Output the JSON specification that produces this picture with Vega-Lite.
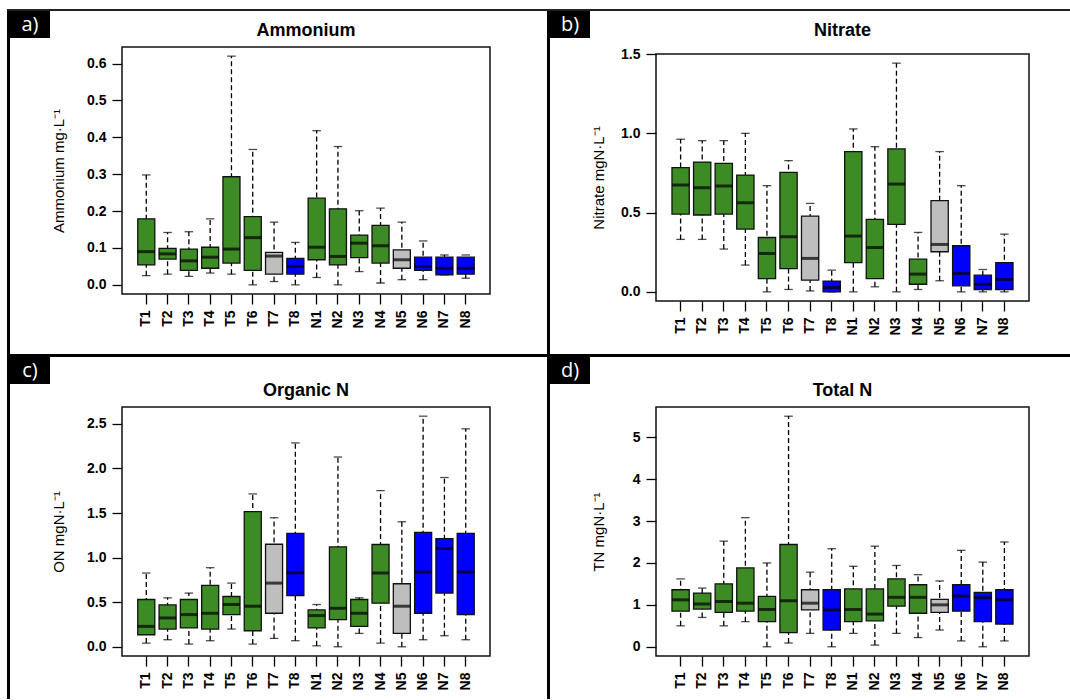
{
  "$schema": "https://vega.github.io/schema/vega-lite/v6.json",
  "padding": {"left": 7, "top": 9, "right": 0, "bottom": 0},
  "background": "white",
  "spacing": 0,
  "config": {
    "view": {"stroke": null},
    "concat": {"spacing": 0},
    "font": "Liberation Sans",
    "axis": {"domain": false, "grid": false, "tickColor": "black", "tickWidth": 1.3, "tickSize": 10, "labelColor": "black", "labelFont": "Liberation Sans", "labelFontWeight": "bold", "labelFontSize": 14, "titleFont": "Liberation Sans", "titleFontWeight": "normal", "titleFontSize": 15, "titleColor": "black", "labelPadding": 6},
    "title": {"fontSize": 18, "fontWeight": "bold", "font": "Liberation Sans", "color": "black", "offset": 7}
  },
  "datasets": {
    "blank": [{"t": ""}],
    "box": [
      {"panel":"a","site":"T1","type":"main","min":0.025,"q1":0.054,"median":0.09,"q3":0.179,"max":0.298},
      {"panel":"a","site":"T2","type":"main","min":0.029,"q1":0.07,"median":0.084,"q3":0.099,"max":0.142},
      {"panel":"a","site":"T3","type":"main","min":0.023,"q1":0.039,"median":0.065,"q3":0.097,"max":0.144},
      {"panel":"a","site":"T4","type":"main","min":0.032,"q1":0.045,"median":0.075,"q3":0.102,"max":0.179},
      {"panel":"a","site":"T5","type":"main","min":0.029,"q1":0.059,"median":0.097,"q3":0.293,"max":0.62},
      {"panel":"a","site":"T6","type":"main","min":0.0,"q1":0.039,"median":0.128,"q3":0.185,"max":0.367},
      {"panel":"a","site":"T7","type":"control","min":0.009,"q1":0.029,"median":0.078,"q3":0.088,"max":0.17},
      {"panel":"a","site":"T8","type":"reference","min":0.0,"q1":0.029,"median":0.05,"q3":0.072,"max":0.115},
      {"panel":"a","site":"N1","type":"main","min":0.02,"q1":0.068,"median":0.102,"q3":0.235,"max":0.418},
      {"panel":"a","site":"N2","type":"main","min":0.0,"q1":0.054,"median":0.077,"q3":0.206,"max":0.375},
      {"panel":"a","site":"N3","type":"main","min":0.036,"q1":0.074,"median":0.113,"q3":0.135,"max":0.201},
      {"panel":"a","site":"N4","type":"main","min":0.005,"q1":0.059,"median":0.106,"q3":0.161,"max":0.208},
      {"panel":"a","site":"N5","type":"control","min":0.014,"q1":0.045,"median":0.068,"q3":0.095,"max":0.17},
      {"panel":"a","site":"N6","type":"reference","min":0.014,"q1":0.039,"median":0.05,"q3":0.075,"max":0.119},
      {"panel":"a","site":"N7","type":"reference","min":0.027,"q1":0.027,"median":0.045,"q3":0.075,"max":0.081},
      {"panel":"a","site":"N8","type":"reference","min":0.018,"q1":0.029,"median":0.045,"q3":0.075,"max":0.081},
      {"panel":"b","site":"T1","type":"main","min":0.331,"q1":0.491,"median":0.674,"q3":0.784,"max":0.963},
      {"panel":"b","site":"T2","type":"main","min":0.331,"q1":0.485,"median":0.657,"q3":0.819,"max":0.954},
      {"panel":"b","site":"T3","type":"main","min":0.27,"q1":0.491,"median":0.668,"q3":0.811,"max":0.954},
      {"panel":"b","site":"T4","type":"main","min":0.169,"q1":0.396,"median":0.562,"q3":0.737,"max":1.0},
      {"panel":"b","site":"T5","type":"main","min":0.0,"q1":0.084,"median":0.242,"q3":0.343,"max":0.67},
      {"panel":"b","site":"T6","type":"main","min":0.015,"q1":0.147,"median":0.348,"q3":0.754,"max":0.828},
      {"panel":"b","site":"T7","type":"control","min":0.006,"q1":0.074,"median":0.211,"q3":0.478,"max":0.558},
      {"panel":"b","site":"T8","type":"reference","min":0.0,"q1":0.0,"median":0.027,"q3":0.067,"max":0.137},
      {"panel":"b","site":"N1","type":"main","min":0.0,"q1":0.185,"median":0.352,"q3":0.885,"max":1.028},
      {"panel":"b","site":"N2","type":"main","min":0.032,"q1":0.084,"median":0.28,"q3":0.457,"max":0.916},
      {"panel":"b","site":"N3","type":"main","min":0.0,"q1":0.426,"median":0.68,"q3":0.902,"max":1.443},
      {"panel":"b","site":"N4","type":"main","min":0.015,"q1":0.048,"median":0.112,"q3":0.206,"max":0.375},
      {"panel":"b","site":"N5","type":"control","min":0.07,"q1":0.253,"median":0.299,"q3":0.575,"max":0.885},
      {"panel":"b","site":"N6","type":"reference","min":0.0,"q1":0.038,"median":0.116,"q3":0.291,"max":0.67},
      {"panel":"b","site":"N7","type":"reference","min":0.0,"q1":0.015,"median":0.048,"q3":0.105,"max":0.141},
      {"panel":"b","site":"N8","type":"reference","min":0.0,"q1":0.015,"median":0.078,"q3":0.185,"max":0.364},
      {"panel":"c","site":"T1","type":"main","min":0.041,"q1":0.135,"median":0.229,"q3":0.53,"max":0.827},
      {"panel":"c","site":"T2","type":"main","min":0.079,"q1":0.199,"median":0.323,"q3":0.47,"max":0.549},
      {"panel":"c","site":"T3","type":"main","min":0.03,"q1":0.211,"median":0.361,"q3":0.53,"max":0.602},
      {"panel":"c","site":"T4","type":"main","min":0.068,"q1":0.199,"median":0.376,"q3":0.688,"max":0.887},
      {"panel":"c","site":"T5","type":"main","min":0.199,"q1":0.361,"median":0.474,"q3":0.564,"max":0.714},
      {"panel":"c","site":"T6","type":"main","min":0.03,"q1":0.18,"median":0.455,"q3":1.515,"max":1.714},
      {"panel":"c","site":"T7","type":"control","min":0.094,"q1":0.376,"median":0.714,"q3":1.15,"max":1.447},
      {"panel":"c","site":"T8","type":"reference","min":0.068,"q1":0.575,"median":0.831,"q3":1.271,"max":2.286},
      {"panel":"c","site":"N1","type":"main","min":0.011,"q1":0.211,"median":0.35,"q3":0.414,"max":0.474},
      {"panel":"c","site":"N2","type":"main","min":0.0,"q1":0.305,"median":0.432,"q3":1.12,"max":2.128},
      {"panel":"c","site":"N3","type":"main","min":0.15,"q1":0.229,"median":0.376,"q3":0.53,"max":0.549},
      {"panel":"c","site":"N4","type":"main","min":0.041,"q1":0.489,"median":0.827,"q3":1.147,"max":1.752},
      {"panel":"c","site":"N5","type":"control","min":0.0,"q1":0.15,"median":0.455,"q3":0.707,"max":1.402},
      {"panel":"c","site":"N6","type":"reference","min":0.079,"q1":0.376,"median":0.838,"q3":1.282,"max":2.586},
      {"panel":"c","site":"N7","type":"reference","min":0.124,"q1":0.602,"median":1.102,"q3":1.214,"max":1.898},
      {"panel":"c","site":"N8","type":"reference","min":0.079,"q1":0.361,"median":0.838,"q3":1.271,"max":2.444},
      {"panel":"d","site":"T1","type":"main","min":0.5,"q1":0.85,"median":1.12,"q3":1.36,"max":1.62},
      {"panel":"d","site":"T2","type":"main","min":0.7,"q1":0.9,"median":1.02,"q3":1.28,"max":1.4},
      {"panel":"d","site":"T3","type":"main","min":0.5,"q1":0.82,"median":1.08,"q3":1.5,"max":2.52},
      {"panel":"d","site":"T4","type":"main","min":0.6,"q1":0.85,"median":1.04,"q3":1.88,"max":3.08},
      {"panel":"d","site":"T5","type":"main","min":0.0,"q1":0.6,"median":0.89,"q3":1.2,"max":2.0},
      {"panel":"d","site":"T6","type":"main","min":0.09,"q1":0.34,"median":1.1,"q3":2.44,"max":5.5},
      {"panel":"d","site":"T7","type":"control","min":0.32,"q1":0.88,"median":1.04,"q3":1.36,"max":1.78},
      {"panel":"d","site":"T8","type":"reference","min":0.0,"q1":0.4,"median":0.88,"q3":1.36,"max":2.34},
      {"panel":"d","site":"N1","type":"main","min":0.32,"q1":0.6,"median":0.89,"q3":1.38,"max":1.92},
      {"panel":"d","site":"N2","type":"main","min":0.04,"q1":0.62,"median":0.78,"q3":1.38,"max":2.4},
      {"panel":"d","site":"N3","type":"main","min":0.32,"q1":0.97,"median":1.18,"q3":1.62,"max":1.94},
      {"panel":"d","site":"N4","type":"main","min":0.22,"q1":0.8,"median":1.18,"q3":1.48,"max":1.72},
      {"panel":"d","site":"N5","type":"control","min":0.4,"q1":0.82,"median":1.0,"q3":1.13,"max":1.57},
      {"panel":"d","site":"N6","type":"reference","min":0.14,"q1":0.85,"median":1.21,"q3":1.48,"max":2.3},
      {"panel":"d","site":"N7","type":"reference","min":0.0,"q1":0.6,"median":1.17,"q3":1.3,"max":2.02},
      {"panel":"d","site":"N8","type":"reference","min":0.14,"q1":0.54,"median":1.12,"q3":1.36,"max":2.5}
    ]
  },
  "vconcat": [
    {"width": 1063, "height": 2, "data": {"name": "blank"}, "transform": [{"filter": "datum.t != ''"}], "mark": {"type": "text"}, "encoding": {"text": {"field": "t"}}, "view": {"fill": "#222", "stroke": null}},
    {"spacing": 0, "hconcat": [
      {"width": 3, "height": 343, "data": {"name": "blank"}, "transform": [{"filter": "datum.t != ''"}], "mark": {"type": "text"}, "encoding": {"text": {"field": "t"}}, "view": {"fill": "black", "stroke": null}},
      {"width": 40, "height": 27, "data": {"name": "blank"}, "mark": {"type": "text", "text": "a)", "color": "white", "font": "Open Sans", "fontSize": 20}, "view": {"fill": "black", "stroke": null}},
      {"spacing": 0, "vconcat": [
        {"width": 1, "height": 10, "data": {"name": "blank"}, "transform": [{"filter": "datum.t != ''"}], "mark": {"type": "text"}, "encoding": {"text": {"field": "t"}}},
        {"width": 368, "height": 247, "view": {"stroke": "#111", "strokeWidth": 1.5},
         "title": {"text": "Ammonium"},
         "data": {"name": "box"}, "transform": [{"filter": "datum.panel == 'a'"}],
         "encoding": {"x": {"field": "site", "type": "nominal", "sort": ["T1","T2","T3","T4","T5","T6","T7","T8","N1","N2","N3","N4","N5","N6","N7","N8"], "scale": {"type": "band", "paddingInner": 0.2, "paddingOuter": 0.74}, "axis": {"labelAngle": 270, "title": null}}},
         "layer": [
           {"mark": {"type": "rule", "strokeDash": [5, 3], "color": "black", "strokeWidth": 1.3}, "encoding": {"y": {"field": "min", "type": "quantitative", "title": "Ammonium mg·L⁻¹", "scale": {"domain": [-0.0248, 0.6448], "nice": false, "zero": false}, "axis": {"values": [0, 0.1, 0.2, 0.3, 0.4, 0.5, 0.6], "format": ".1f", "minExtent": 50, "titlePadding": 6}}, "y2": {"field": "max"}}},
           {"mark": {"type": "tick", "size": 8.5, "thickness": 1.3, "color": "black"}, "encoding": {"y": {"field": "min", "type": "quantitative", "title": "Ammonium mg·L⁻¹"}}},
           {"mark": {"type": "tick", "size": 8.5, "thickness": 1.3, "color": "black"}, "encoding": {"y": {"field": "max", "type": "quantitative", "title": "Ammonium mg·L⁻¹"}}},
           {"mark": {"type": "bar", "stroke": "#111", "strokeWidth": 1.3}, "encoding": {"y": {"field": "q1", "type": "quantitative", "title": "Ammonium mg·L⁻¹"}, "y2": {"field": "q3"}, "fill": {"field": "type", "type": "nominal", "scale": {"domain": ["main", "control", "reference"], "range": ["#3d8b24", "#bebebe", "#0000ff"]}, "legend": null}}},
           {"mark": {"type": "tick", "size": 17, "thickness": 3, "color": "black"}, "encoding": {"y": {"field": "median", "type": "quantitative", "title": "Ammonium mg·L⁻¹"}}}
         ]}
      ]},
      {"width": 56, "height": 10, "data": {"name": "blank"}, "transform": [{"filter": "datum.t != ''"}], "mark": {"type": "text"}, "encoding": {"text": {"field": "t"}}},
      {"width": 3, "height": 343, "data": {"name": "blank"}, "transform": [{"filter": "datum.t != ''"}], "mark": {"type": "text"}, "encoding": {"text": {"field": "t"}}, "view": {"fill": "black", "stroke": null}},
      {"width": 40, "height": 27, "data": {"name": "blank"}, "mark": {"type": "text", "text": "b)", "color": "white", "font": "Open Sans", "fontSize": 20}, "view": {"fill": "black", "stroke": null}},
      {"spacing": 0, "vconcat": [
        {"width": 1, "height": 10, "data": {"name": "blank"}, "transform": [{"filter": "datum.t != ''"}], "mark": {"type": "text"}, "encoding": {"text": {"field": "t"}}},
        {"width": 373, "height": 247, "view": {"stroke": "#111", "strokeWidth": 1.5},
         "title": {"text": "Nitrate"},
         "data": {"name": "box"}, "transform": [{"filter": "datum.panel == 'b'"}],
         "encoding": {"x": {"field": "site", "type": "nominal", "sort": ["T1","T2","T3","T4","T5","T6","T7","T8","N1","N2","N3","N4","N5","N6","N7","N8"], "scale": {"type": "band", "paddingInner": 0.2, "paddingOuter": 0.74}, "axis": {"labelAngle": 270, "title": null}}},
         "layer": [
           {"mark": {"type": "rule", "strokeDash": [5, 3], "color": "black", "strokeWidth": 1.3}, "encoding": {"y": {"field": "min", "type": "quantitative", "title": "Nitrate mgN·L⁻¹", "scale": {"domain": [-0.0577, 1.5007], "nice": false, "zero": false}, "axis": {"values": [0, 0.5, 1, 1.5], "format": ".1f", "minExtent": 44, "titlePadding": 6}}, "y2": {"field": "max"}}},
           {"mark": {"type": "tick", "size": 8.5, "thickness": 1.3, "color": "black"}, "encoding": {"y": {"field": "min", "type": "quantitative", "title": "Nitrate mgN·L⁻¹"}}},
           {"mark": {"type": "tick", "size": 8.5, "thickness": 1.3, "color": "black"}, "encoding": {"y": {"field": "max", "type": "quantitative", "title": "Nitrate mgN·L⁻¹"}}},
           {"mark": {"type": "bar", "stroke": "#111", "strokeWidth": 1.3}, "encoding": {"y": {"field": "q1", "type": "quantitative", "title": "Nitrate mgN·L⁻¹"}, "y2": {"field": "q3"}, "fill": {"field": "type", "type": "nominal", "scale": {"domain": ["main", "control", "reference"], "range": ["#3d8b24", "#bebebe", "#0000ff"]}, "legend": null}}},
           {"mark": {"type": "tick", "size": 17, "thickness": 3, "color": "black"}, "encoding": {"y": {"field": "median", "type": "quantitative", "title": "Nitrate mgN·L⁻¹"}}}
         ]}
      ]}
    ]},
    {"width": 1063, "height": 3, "data": {"name": "blank"}, "transform": [{"filter": "datum.t != ''"}], "mark": {"type": "text"}, "encoding": {"text": {"field": "t"}}, "view": {"fill": "black", "stroke": null}},
    {"spacing": 0, "hconcat": [
      {"width": 3, "height": 342, "data": {"name": "blank"}, "transform": [{"filter": "datum.t != ''"}], "mark": {"type": "text"}, "encoding": {"text": {"field": "t"}}, "view": {"fill": "black", "stroke": null}},
      {"width": 40, "height": 27, "data": {"name": "blank"}, "mark": {"type": "text", "text": "c)", "color": "white", "font": "Open Sans", "fontSize": 20}, "view": {"fill": "black", "stroke": null}},
      {"spacing": 0, "vconcat": [
        {"width": 1, "height": 24, "data": {"name": "blank"}, "transform": [{"filter": "datum.t != ''"}], "mark": {"type": "text"}, "encoding": {"text": {"field": "t"}}},
        {"width": 368, "height": 249, "view": {"stroke": "#111", "strokeWidth": 1.5},
         "title": {"text": "Organic N"},
         "data": {"name": "box"}, "transform": [{"filter": "datum.panel == 'c'"}],
         "encoding": {"x": {"field": "site", "type": "nominal", "sort": ["T1","T2","T3","T4","T5","T6","T7","T8","N1","N2","N3","N4","N5","N6","N7","N8"], "scale": {"type": "band", "paddingInner": 0.2, "paddingOuter": 0.74}, "axis": {"labelAngle": 270, "title": null}}},
         "layer": [
           {"mark": {"type": "rule", "strokeDash": [5, 3], "color": "black", "strokeWidth": 1.3}, "encoding": {"y": {"field": "min", "type": "quantitative", "title": "ON mgN·L⁻¹", "scale": {"domain": [-0.1034, 2.689], "nice": false, "zero": false}, "axis": {"values": [0, 0.5, 1, 1.5, 2, 2.5], "format": ".1f", "minExtent": 50, "titlePadding": 6}}, "y2": {"field": "max"}}},
           {"mark": {"type": "tick", "size": 8.5, "thickness": 1.3, "color": "black"}, "encoding": {"y": {"field": "min", "type": "quantitative", "title": "ON mgN·L⁻¹"}}},
           {"mark": {"type": "tick", "size": 8.5, "thickness": 1.3, "color": "black"}, "encoding": {"y": {"field": "max", "type": "quantitative", "title": "ON mgN·L⁻¹"}}},
           {"mark": {"type": "bar", "stroke": "#111", "strokeWidth": 1.3}, "encoding": {"y": {"field": "q1", "type": "quantitative", "title": "ON mgN·L⁻¹"}, "y2": {"field": "q3"}, "fill": {"field": "type", "type": "nominal", "scale": {"domain": ["main", "control", "reference"], "range": ["#3d8b24", "#bebebe", "#0000ff"]}, "legend": null}}},
           {"mark": {"type": "tick", "size": 17, "thickness": 3, "color": "black"}, "encoding": {"y": {"field": "median", "type": "quantitative", "title": "ON mgN·L⁻¹"}}}
         ]}
      ]},
      {"width": 56, "height": 10, "data": {"name": "blank"}, "transform": [{"filter": "datum.t != ''"}], "mark": {"type": "text"}, "encoding": {"text": {"field": "t"}}},
      {"width": 3, "height": 342, "data": {"name": "blank"}, "transform": [{"filter": "datum.t != ''"}], "mark": {"type": "text"}, "encoding": {"text": {"field": "t"}}, "view": {"fill": "black", "stroke": null}},
      {"width": 40, "height": 27, "data": {"name": "blank"}, "mark": {"type": "text", "text": "d)", "color": "white", "font": "Open Sans", "fontSize": 20}, "view": {"fill": "black", "stroke": null}},
      {"spacing": 0, "vconcat": [
        {"width": 1, "height": 24, "data": {"name": "blank"}, "transform": [{"filter": "datum.t != ''"}], "mark": {"type": "text"}, "encoding": {"text": {"field": "t"}}},
        {"width": 373, "height": 249, "view": {"stroke": "#111", "strokeWidth": 1.5},
         "title": {"text": "Total N"},
         "data": {"name": "box"}, "transform": [{"filter": "datum.panel == 'd'"}],
         "encoding": {"x": {"field": "site", "type": "nominal", "sort": ["T1","T2","T3","T4","T5","T6","T7","T8","N1","N2","N3","N4","N5","N6","N7","N8"], "scale": {"type": "band", "paddingInner": 0.2, "paddingOuter": 0.74}, "axis": {"labelAngle": 270, "title": null}}},
         "layer": [
           {"mark": {"type": "rule", "strokeDash": [5, 3], "color": "black", "strokeWidth": 1.3}, "encoding": {"y": {"field": "min", "type": "quantitative", "title": "TN mgN·L⁻¹", "scale": {"domain": [-0.22, 5.72], "nice": false, "zero": false}, "axis": {"values": [0, 1, 2, 3, 4, 5], "format": "d", "minExtent": 44, "titlePadding": 6}}, "y2": {"field": "max"}}},
           {"mark": {"type": "tick", "size": 8.5, "thickness": 1.3, "color": "black"}, "encoding": {"y": {"field": "min", "type": "quantitative", "title": "TN mgN·L⁻¹"}}},
           {"mark": {"type": "tick", "size": 8.5, "thickness": 1.3, "color": "black"}, "encoding": {"y": {"field": "max", "type": "quantitative", "title": "TN mgN·L⁻¹"}}},
           {"mark": {"type": "bar", "stroke": "#111", "strokeWidth": 1.3}, "encoding": {"y": {"field": "q1", "type": "quantitative", "title": "TN mgN·L⁻¹"}, "y2": {"field": "q3"}, "fill": {"field": "type", "type": "nominal", "scale": {"domain": ["main", "control", "reference"], "range": ["#3d8b24", "#bebebe", "#0000ff"]}, "legend": null}}},
           {"mark": {"type": "tick", "size": 17, "thickness": 3, "color": "black"}, "encoding": {"y": {"field": "median", "type": "quantitative", "title": "TN mgN·L⁻¹"}}}
         ]}
      ]}
    ]}
  ]
}
